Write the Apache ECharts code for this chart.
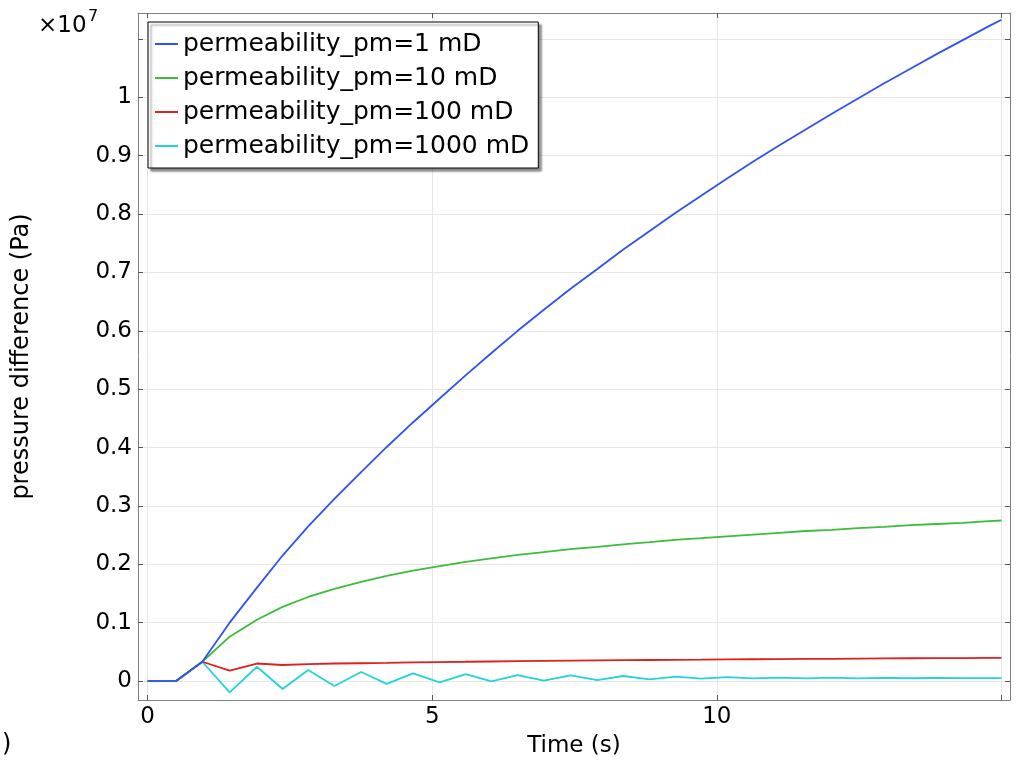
<!DOCTYPE html>
<html>
<head>
<meta charset="utf-8">
<script src="https://cdn.jsdelivr.net/npm/echarts@6/dist/echarts.min.js"></script>
<style>html,body{margin:0;padding:0;background:#fff}#c{width:1017px;height:765px}</style>
</head>
<body>
<div id="c"></div>
<script>
// Time (s)
var times = [0, 0.5, 0.96, 1.44, 1.92, 2.37, 2.82, 3.28, 3.75, 4.2, 4.66, 5.13, 5.59, 6.04, 6.5, 6.96, 7.43, 7.9, 8.35, 8.82, 9.27, 9.73, 10.18, 10.64, 11.1, 11.56, 12.02, 12.48, 12.94, 13.4, 13.86, 14.32, 14.78, 15];
// pressure difference, in units of 1e7 Pa
var pm1 = [0, 0, 0.033, 0.100, 0.160, 0.215, 0.265, 0.312, 0.358, 0.401, 0.443, 0.484, 0.524, 0.562, 0.600, 0.636, 0.672, 0.706, 0.739, 0.771, 0.802, 0.832, 0.861, 0.890, 0.918, 0.945, 0.972, 0.998, 1.024, 1.049, 1.074, 1.098, 1.122, 1.133];
var pm10 = [0, 0, 0.033, 0.076, 0.105, 0.127, 0.144, 0.158, 0.170, 0.180, 0.189, 0.197, 0.204, 0.210, 0.216, 0.221, 0.226, 0.230, 0.234, 0.238, 0.242, 0.245, 0.248, 0.251, 0.254, 0.257, 0.259, 0.262, 0.264, 0.267, 0.269, 0.271, 0.274, 0.275];
var pm100 = [0, 0, 0.033, 0.0177, 0.030, 0.0275, 0.029, 0.030, 0.0305, 0.031, 0.0318, 0.0325, 0.033, 0.0335, 0.034, 0.0345, 0.035, 0.0353, 0.0357, 0.036, 0.0363, 0.0366, 0.037, 0.0373, 0.0376, 0.0379, 0.0381, 0.0384, 0.0387, 0.039, 0.0392, 0.0394, 0.0396, 0.0397];
var pm1000 = [0, 0, 0.033, -0.0194, 0.0245, -0.0137, 0.0188, -0.0084, 0.0154, -0.0048, 0.0132, -0.0022, 0.0117, -0.0005, 0.0102, 0.0005, 0.0097, 0.0017, 0.0086, 0.003, 0.0074, 0.004, 0.0068, 0.0045, 0.006, 0.0047, 0.0057, 0.0047, 0.0054, 0.0048, 0.0052, 0.0049, 0.0051, 0.005];
var seriesNames = ['permeability_pm=1 mD', 'permeability_pm=10 mD', 'permeability_pm=100 mD', 'permeability_pm=1000 mD'];
var colors = ['#3152f0', '#3cbc3c', '#dd2020', '#22d3d8'];
var xTicks = [0, 5, 10, 15];
var xLabels = [0, 5, 10];
var yTicks = [0, 0.1, 0.2, 0.3, 0.4, 0.5, 0.6, 0.7, 0.8, 0.9, 1, 1.1];
var yLabels = [0, 0.1, 0.2, 0.3, 0.4, 0.5, 0.6, 0.7, 0.8, 0.9, 1];

var FONT = 'DejaVu Sans';
function pairs(ys) { return times.map(function (t, i) { return [t, ys[i]]; }); }
var allY = [pm1, pm10, pm100, pm1000];

var chart = echarts.init(document.getElementById('c'), null, {renderer: 'canvas'});
var gridCol = '#e6e6e6';
var frameCol = '#808080';
var xmin = -0.17, xmax = 15.15, ymin = -0.0325, ymax = 1.1445;
function xAx(pos, show) {
  return {
    type: 'value', position: pos, min: xmin, max: xmax,
    axisLine: {show: true, onZero: false, lineStyle: {color: frameCol, width: 1}},
    axisTick: {show: true, inside: true, length: 5, customValues: xTicks, lineStyle: {color: '#555'}},
    axisLabel: {show: show, customValues: xLabels, color: '#000', fontFamily: FONT, fontSize: 23, margin: 6},
    splitLine: {show: show, customValues: xTicks, lineStyle: {color: gridCol, width: 1}},
    name: show ? 'Time (s)' : '', nameLocation: 'middle', nameGap: 35,
    nameTextStyle: {color: '#000', fontFamily: FONT, fontSize: 23}
  };
}
function yAx(pos, show) {
  return {
    type: 'value', position: pos, min: ymin, max: ymax,
    axisLine: {show: true, onZero: false, lineStyle: {color: frameCol, width: 1}},
    axisTick: {show: true, inside: true, length: 5, customValues: yTicks, lineStyle: {color: '#555'}},
    axisLabel: {show: show, customValues: yLabels, color: '#000', fontFamily: FONT, fontSize: 23, margin: 6,
      formatter: function (v) { return String(v); }},
    splitLine: {show: show, customValues: yTicks, lineStyle: {color: gridCol, width: 1}},
    name: show ? 'pressure difference (Pa)' : '', nameLocation: 'middle', nameGap: 104, nameRotate: 90,
    nameTextStyle: {color: '#000', fontFamily: FONT, fontSize: 24}
  };
}
chart.setOption({
  animation: false,
  backgroundColor: '#fff',
  grid: {left: 138, top: 13, right: 7, bottom: 65, containLabel: false},
  xAxis: [xAx('bottom', true), xAx('top', false)],
  yAxis: [yAx('left', true), yAx('right', false)],
  legend: {
    orient: 'vertical', left: 148, top: 22,
    data: seriesNames.map(function (n) { return {name: n, icon: 'rect'}; }),
    itemWidth: 23, itemHeight: 2, itemGap: 6,
    padding: [8, 9, 8, 7],
    backgroundColor: '#fff', borderColor: '#000', borderWidth: 1,
    shadowColor: 'rgba(0,0,0,0.45)', shadowOffsetX: 3, shadowOffsetY: 3, shadowBlur: 2,
    textStyle: {color: '#000', fontFamily: FONT, fontSize: 25, lineHeight: 28}
  },
  graphic: [
    {type: 'text', left: 38, top: 15, style: {text: '×10', fontFamily: FONT, fontSize: 23, fill: '#000'}},
    {type: 'text', left: 88, top: 9, style: {text: '7', fontFamily: FONT, fontSize: 16, fill: '#000'}},
    {type: 'text', left: 2, top: 733, style: {text: ')', fontFamily: FONT, fontSize: 24, fill: '#000'}}
  ],
  series: seriesNames.map(function (n, i) {
    return {
      name: n, type: 'line', data: pairs(allY[i]), symbol: 'none', showSymbol: false,
      lineStyle: {color: colors[i], width: 1.8}, itemStyle: {color: colors[i]},
      xAxisIndex: 0, yAxisIndex: 0, z: 10 - i
    };
  })
});
</script>
</body>
</html>
